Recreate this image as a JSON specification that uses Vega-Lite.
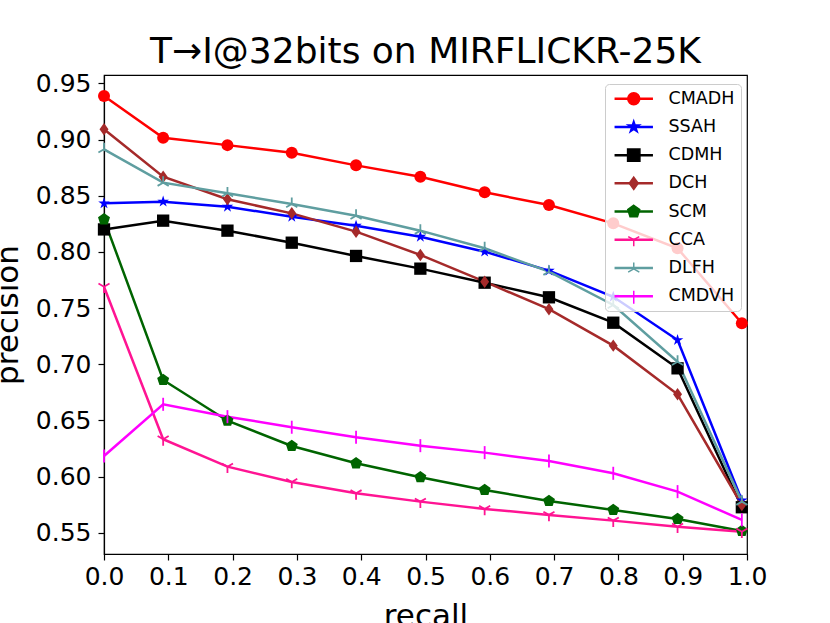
{
  "$schema": "https://vega.github.io/schema/vega-lite/v6.json",
  "width": 643,
  "height": 479,
  "autosize": {"type": "none"},
  "padding": {"left": 104, "top": 75, "right": 83, "bottom": 69},
  "background": "white",
  "config": {
    "font": "DejaVu Sans",
    "view": {"stroke": "black", "strokeWidth": 1.2},
    "axis": {
      "domainColor": "black",
      "domainWidth": 1.2,
      "tickColor": "black",
      "tickWidth": 1.2,
      "tickSize": 6,
      "grid": false,
      "labelColor": "black",
      "titleColor": "black",
      "labelFont": "DejaVu Sans",
      "titleFont": "DejaVu Sans",
      "labelFontSize": 25,
      "titleFontSize": 31,
      "titleFontWeight": "normal",
      "labelFlush": false,
      "labelOverlap": false
    }
  },
  "title": {
    "text": "T→I@32bits on MIRFLICKR-25K",
    "font": "DejaVu Sans",
    "fontSize": 36,
    "fontWeight": "normal",
    "color": "black",
    "anchor": "middle",
    "frame": "group",
    "baseline": "alphabetic",
    "offset": -28
  },
  "data": {
    "values": [
      {"method": "CMADH", "recall": 0, "precision": 0.9387},
      {"method": "CMADH", "recall": 0.092, "precision": 0.9016},
      {"method": "CMADH", "recall": 0.192, "precision": 0.895},
      {"method": "CMADH", "recall": 0.292, "precision": 0.8883},
      {"method": "CMADH", "recall": 0.392, "precision": 0.877},
      {"method": "CMADH", "recall": 0.492, "precision": 0.8669},
      {"method": "CMADH", "recall": 0.592, "precision": 0.853},
      {"method": "CMADH", "recall": 0.692, "precision": 0.8417},
      {"method": "CMADH", "recall": 0.792, "precision": 0.8254},
      {"method": "CMADH", "recall": 0.892, "precision": 0.8032},
      {"method": "CMADH", "recall": 0.992, "precision": 0.7365},
      {"method": "SSAH", "recall": 0, "precision": 0.8432},
      {"method": "SSAH", "recall": 0.092, "precision": 0.8447},
      {"method": "SSAH", "recall": 0.192, "precision": 0.8402},
      {"method": "SSAH", "recall": 0.292, "precision": 0.8313},
      {"method": "SSAH", "recall": 0.392, "precision": 0.8233},
      {"method": "SSAH", "recall": 0.492, "precision": 0.8135},
      {"method": "SSAH", "recall": 0.592, "precision": 0.8002},
      {"method": "SSAH", "recall": 0.692, "precision": 0.7833},
      {"method": "SSAH", "recall": 0.792, "precision": 0.7601},
      {"method": "SSAH", "recall": 0.892, "precision": 0.7216},
      {"method": "SSAH", "recall": 0.992, "precision": 0.579},
      {"method": "CDMH", "recall": 0, "precision": 0.82},
      {"method": "CDMH", "recall": 0.092, "precision": 0.8278},
      {"method": "CDMH", "recall": 0.192, "precision": 0.8189},
      {"method": "CDMH", "recall": 0.292, "precision": 0.8082},
      {"method": "CDMH", "recall": 0.392, "precision": 0.7964},
      {"method": "CDMH", "recall": 0.492, "precision": 0.7851},
      {"method": "CDMH", "recall": 0.592, "precision": 0.7726},
      {"method": "CDMH", "recall": 0.692, "precision": 0.7596},
      {"method": "CDMH", "recall": 0.792, "precision": 0.737},
      {"method": "CDMH", "recall": 0.892, "precision": 0.6964},
      {"method": "CDMH", "recall": 0.992, "precision": 0.5728},
      {"method": "DCH", "recall": 0, "precision": 0.9091},
      {"method": "DCH", "recall": 0.092, "precision": 0.8669},
      {"method": "DCH", "recall": 0.192, "precision": 0.8468},
      {"method": "DCH", "recall": 0.292, "precision": 0.8343},
      {"method": "DCH", "recall": 0.392, "precision": 0.818},
      {"method": "DCH", "recall": 0.492, "precision": 0.7973},
      {"method": "DCH", "recall": 0.592, "precision": 0.7735},
      {"method": "DCH", "recall": 0.692, "precision": 0.749},
      {"method": "DCH", "recall": 0.792, "precision": 0.7166},
      {"method": "DCH", "recall": 0.892, "precision": 0.6733},
      {"method": "DCH", "recall": 0.992, "precision": 0.5748},
      {"method": "SCM", "recall": 0, "precision": 0.829},
      {"method": "SCM", "recall": 0.092, "precision": 0.686},
      {"method": "SCM", "recall": 0.192, "precision": 0.6498},
      {"method": "SCM", "recall": 0.292, "precision": 0.6273},
      {"method": "SCM", "recall": 0.392, "precision": 0.6119},
      {"method": "SCM", "recall": 0.492, "precision": 0.5995},
      {"method": "SCM", "recall": 0.592, "precision": 0.5882},
      {"method": "SCM", "recall": 0.692, "precision": 0.5784},
      {"method": "SCM", "recall": 0.792, "precision": 0.5704},
      {"method": "SCM", "recall": 0.892, "precision": 0.5624},
      {"method": "SCM", "recall": 0.992, "precision": 0.5517},
      {"method": "CCA", "recall": 0, "precision": 0.769},
      {"method": "CCA", "recall": 0.092, "precision": 0.6333},
      {"method": "CCA", "recall": 0.192, "precision": 0.6089},
      {"method": "CCA", "recall": 0.292, "precision": 0.5953},
      {"method": "CCA", "recall": 0.392, "precision": 0.5852},
      {"method": "CCA", "recall": 0.492, "precision": 0.5778},
      {"method": "CCA", "recall": 0.592, "precision": 0.5713},
      {"method": "CCA", "recall": 0.692, "precision": 0.566},
      {"method": "CCA", "recall": 0.792, "precision": 0.5609},
      {"method": "CCA", "recall": 0.892, "precision": 0.5555},
      {"method": "CCA", "recall": 0.992, "precision": 0.551},
      {"method": "DLFH", "recall": 0, "precision": 0.8913},
      {"method": "DLFH", "recall": 0.092, "precision": 0.8616},
      {"method": "DLFH", "recall": 0.192, "precision": 0.8521},
      {"method": "DLFH", "recall": 0.292, "precision": 0.8426},
      {"method": "DLFH", "recall": 0.392, "precision": 0.8322},
      {"method": "DLFH", "recall": 0.492, "precision": 0.8189},
      {"method": "DLFH", "recall": 0.592, "precision": 0.8032},
      {"method": "DLFH", "recall": 0.692, "precision": 0.7824},
      {"method": "DLFH", "recall": 0.792, "precision": 0.7528},
      {"method": "DLFH", "recall": 0.892, "precision": 0.7023},
      {"method": "DLFH", "recall": 0.992, "precision": 0.5778},
      {"method": "CMDVH", "recall": 0, "precision": 0.6184},
      {"method": "CMDVH", "recall": 0.092, "precision": 0.6644},
      {"method": "CMDVH", "recall": 0.192, "precision": 0.6534},
      {"method": "CMDVH", "recall": 0.292, "precision": 0.644},
      {"method": "CMDVH", "recall": 0.392, "precision": 0.635},
      {"method": "CMDVH", "recall": 0.492, "precision": 0.6276},
      {"method": "CMDVH", "recall": 0.592, "precision": 0.6214},
      {"method": "CMDVH", "recall": 0.692, "precision": 0.614},
      {"method": "CMDVH", "recall": 0.792, "precision": 0.603},
      {"method": "CMDVH", "recall": 0.892, "precision": 0.5867},
      {"method": "CMDVH", "recall": 0.992, "precision": 0.5615}
    ]
  },
  "encoding": {
    "x": {
      "field": "recall",
      "type": "quantitative",
      "title": "recall",
      "scale": {"domain": [0, 1], "nice": false, "zero": false},
      "axis": {
        "values": [0, 0.1, 0.2, 0.3, 0.4, 0.5, 0.6, 0.7, 0.8, 0.9, 1],
        "format": ".1f",
        "labelPadding": 4,
        "titleY": 71,
        "titleBaseline": "alphabetic"
      }
    },
    "y": {
      "field": "precision",
      "type": "quantitative",
      "title": "precision",
      "scale": {"domain": [0.5312, 0.9574], "nice": false, "zero": false},
      "axis": {
        "values": [0.55, 0.6, 0.65, 0.7, 0.75, 0.8, 0.85, 0.9, 0.95],
        "format": ".2f",
        "labelPadding": 7,
        "titleX": -87,
        "titleY": 239.5,
        "titleAngle": -90,
        "titleAlign": "center",
        "titleBaseline": "alphabetic"
      }
    }
  },
  "layer": [
    {
      "mark": {"type": "line", "strokeWidth": 2.5},
      "encoding": {
        "stroke": {
          "field": "method",
          "type": "nominal",
          "sort": ["CMADH", "SSAH", "CDMH", "DCH", "SCM", "CCA", "DLFH", "CMDVH"],
          "scale": {"range": ["#ff0000", "#0000ff", "#000000", "#a52a2a", "#006400", "#ff1493", "#5f9ea0", "#ff00ff"]},
          "legend": {
            "title": null,
            "orient": "none",
            "legendX": 501,
            "legendY": 9,
            "zindex": 1,
            "fillColor": "rgba(255,255,255,0.8)",
            "strokeColor": "#cccccc",
            "cornerRadius": 4,
            "padding": 6,
            "symbolOffset": 14,
            "symbolType": "M-3.2,0L3.2,0",
            "symbolSize": 144,
            "symbolStrokeWidth": 2.5,
            "labelFont": "DejaVu Sans",
            "labelFontSize": 17.5,
            "labelColor": "black",
            "labelOffset": 26,
            "rowPadding": 9.2
          }
        }
      }
    },
    {
      "transform": [{"filter": {"field": "method", "oneOf": ["CMADH", "SSAH", "CDMH", "DCH", "SCM"]}}],
      "mark": {"type": "point", "filled": true, "opacity": 1},
      "encoding": {
        "color": {
          "field": "method",
          "type": "nominal",
          "scale": {
            "domain": ["CMADH", "SSAH", "CDMH", "DCH", "SCM", "CCA", "DLFH", "CMDVH"],
            "range": ["#ff0000", "#0000ff", "#000000", "#a52a2a", "#006400", "#ff1493", "#5f9ea0", "#ff00ff"]
          },
          "legend": {
            "title": null,
            "orient": "none",
            "legendX": 501,
            "legendY": 9,
            "zindex": 2,
            "padding": 6,
            "symbolOffset": 14,
            "symbolSize": 144,
            "labelFont": "DejaVu Sans",
            "labelFontSize": 17.5,
            "labelOpacity": 0,
            "labelOffset": 26,
            "rowPadding": 9.2,
            "encode": {
              "symbols": {
                "update": {
                  "fill": {"scale": "color", "field": "value"},
                  "stroke": {"scale": "color", "field": "value"},
                  "strokeWidth": {"value": 1.5},
                  "opacity": {"value": 1}
                }
              }
            }
          }
        },
        "shape": {
          "field": "method",
          "type": "nominal",
          "scale": {
            "domain": ["CMADH", "SSAH", "CDMH", "DCH", "SCM", "CCA", "DLFH", "CMDVH"],
            "range": [
              "circle",
              "M0,-1L0.225,-0.309L0.951,-0.309L0.363,0.118L0.588,0.809L0,0.382L-0.588,0.809L-0.363,0.118L-0.951,-0.309L-0.225,-0.309Z",
              "square",
              "M0,-1L0.72,0L0,1L-0.72,0Z",
              "M0,-1L0.951,-0.309L0.588,0.809L-0.588,0.809L-0.951,-0.309Z",
              "M0,0L0,1M0,0L-0.866,-0.5M0,0L0.866,-0.5",
              "M0,0L0,-1M0,0L-0.866,0.5M0,0L0.866,0.5",
              "M0,-1L0,1"
            ]
          }
        },
        "size": {
          "field": "method",
          "type": "ordinal",
          "legend": null,
          "scale": {
            "domain": ["CMADH", "SSAH", "CDMH", "DCH", "SCM", "CCA", "DLFH", "CMDVH"],
            "range": [144, 170, 150, 230, 160, 100, 100, 100]
          }
        }
      }
    },
    {
      "transform": [{"filter": {"field": "method", "oneOf": ["CCA", "DLFH", "CMDVH"]}}],
      "mark": {"type": "point", "filled": false, "strokeWidth": 1.8, "opacity": 1},
      "encoding": {
        "color": {
          "field": "method",
          "type": "nominal",
          "scale": {
            "domain": ["CMADH", "SSAH", "CDMH", "DCH", "SCM", "CCA", "DLFH", "CMDVH"],
            "range": ["#ff0000", "#0000ff", "#000000", "#a52a2a", "#006400", "#ff1493", "#5f9ea0", "#ff00ff"]
          }
        },
        "shape": {"field": "method", "type": "nominal"},
        "size": {"field": "method", "type": "ordinal", "legend": null}
      }
    }
  ]
}
